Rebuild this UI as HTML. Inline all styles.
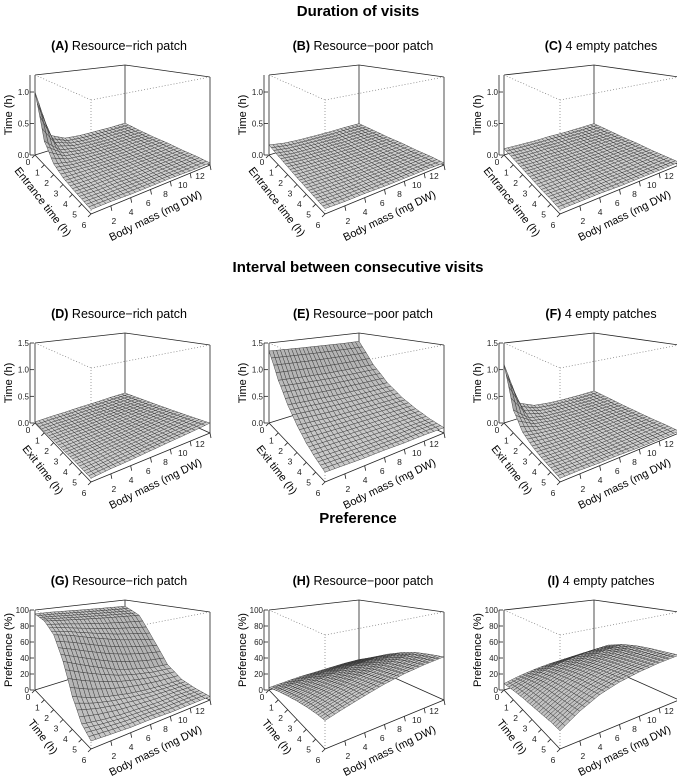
<!DOCTYPE html>
<html><head><meta charset="utf-8"><style>
body{margin:0;background:#fff}
svg{display:block;font-family:"Liberation Sans",sans-serif}
</style></head><body>
<svg id="fig" width="677" height="776" viewBox="0 0 677 776" xmlns="http://www.w3.org/2000/svg">
<text x="358" y="16" text-anchor="middle" font-size="15" font-weight="bold">Duration of visits</text>
<text x="358" y="272" text-anchor="middle" font-size="15" font-weight="bold">Interval between consecutive visits</text>
<text x="358" y="523" text-anchor="middle" font-size="15" font-weight="bold">Preference</text>
</svg>
<script>
// time rows 0..6 h, mass columns 0,2,...,12 mg DW
const timeTicks=[0,1,2,3,4,5,6];
const massTicks=[2,4,6,8,10,12];
const massCols=[0,2,4,6,8,10,12];
const zTicksDur=[0,0.5,1.0];
const zTicksInt=[0,0.5,1.0,1.5];
const zTicksPref=[0,20,40,60,80,100];
const zA=[[1.00,.25,.13,.10,.09,.08,.08],[.35,.15,.10,.08,.07,.07,.06],[.15,.10,.08,.07,.06,.06,.05],[.09,.08,.07,.06,.05,.05,.05],[.07,.06,.06,.05,.05,.04,.04],[.06,.05,.05,.04,.04,.04,.04],[.05,.05,.04,.04,.04,.03,.03]];
const zB=[[.16,.12,.10,.09,.08,.08,.07],[.13,.10,.09,.08,.07,.07,.06],[.11,.09,.08,.07,.06,.06,.05],[.09,.08,.07,.06,.05,.05,.05],[.08,.07,.06,.05,.05,.04,.04],[.07,.06,.05,.05,.04,.04,.04],[.06,.05,.05,.04,.04,.04,.03]];
const zC=[[.10,.09,.08,.08,.07,.07,.07],[.09,.08,.08,.07,.07,.06,.06],[.08,.07,.07,.06,.06,.06,.05],[.07,.07,.06,.06,.05,.05,.05],[.06,.06,.06,.05,.05,.05,.04],[.06,.05,.05,.05,.04,.04,.04],[.05,.05,.05,.04,.04,.04,.04]];
const zD=[[.02,.03,.03,.04,.04,.05,.05],[.03,.04,.04,.05,.05,.06,.07],[.04,.05,.05,.06,.07,.08,.09],[.04,.05,.06,.07,.08,.10,.11],[.05,.06,.07,.08,.10,.12,.13],[.05,.06,.08,.09,.11,.13,.15],[.05,.07,.08,.10,.12,.14,.17]];
const zE=[[1.35,1.34,1.33,1.32,1.31,1.30,1.30],[.92,.90,.88,.86,.85,.84,.83],[.62,.60,.58,.56,.55,.54,.53],[.42,.40,.38,.37,.36,.35,.34],[.28,.27,.26,.25,.24,.23,.22],[.19,.18,.17,.16,.15,.15,.14],[.13,.12,.11,.11,.10,.10,.09]];
const zF=[[1.10,.30,.17,.13,.11,.10,.10],[.40,.18,.12,.10,.09,.08,.08],[.17,.12,.09,.08,.07,.07,.06],[.10,.08,.07,.07,.06,.06,.05],[.07,.06,.06,.05,.05,.05,.04],[.06,.05,.05,.04,.04,.04,.04],[.05,.05,.04,.04,.03,.03,.03]];
const zG=[[95,95,94,93,92,91,90],[92,90,88,86,84,82,80],[82,78,72,66,60,55,50],[60,52,44,36,30,25,22],[32,25,20,16,13,11,10],[14,11,9,8,7,7,6],[7,6,5,5,4,4,4]];
const zH=[[3,4,5,5,5,5,4],[10,13,15,16,17,17,17],[15,19,23,25,27,28,29],[19,24,28,31,34,36,38],[22,27,32,36,39,42,44],[24,29,34,38,42,45,47],[25,30,35,40,44,47,49]];
const zI=[[8,12,15,17,18,19,20],[11,18,24,28,31,33,35],[13,22,29,34,38,41,43],[14,24,32,38,42,45,47],[15,25,34,40,44,47,49],[16,26,35,41,45,48,50],[16,27,36,42,46,49,51]];

const NS='http://www.w3.org/2000/svg';
const svg=document.getElementById('fig');
function mk(tag,attrs,parent){const e=document.createElementNS(NS,tag);for(const k in attrs)e.setAttribute(k,attrs[k]);(parent||svg).appendChild(e);return e;}
const G0={xL:35,xF:91,xR:210,xB:125,bL:155,bF:214,bR:165,bB:127,tL:75,tF:100,tR:77,tB:65};
function bil(a00,a10,a11,a01,u,v){return (1-u)*(1-v)*a00+u*(1-v)*a10+u*v*a11+(1-u)*v*a01;}
function proj(ox,oy,u,v,w){
 const x=bil(G0.xL,G0.xF,G0.xR,G0.xB,u,v);
 const yb=bil(G0.bL,G0.bF,G0.bR,G0.bB,u,v), yt=bil(G0.tL,G0.tF,G0.tR,G0.tB,u,v);
 return [ox+x, oy+yb+w*(yt-yb)];
}
function sample(grid,t,m){
 const ti=Math.min(5,Math.floor(t)), ft=t-ti;
 const mi=Math.min(5,Math.floor(m/2)), fm=m/2-mi;
 const a=grid[ti][mi],b=grid[ti+1][mi],c=grid[ti][mi+1],d=grid[ti+1][mi+1];
 return (1-ft)*(1-fm)*a+ft*(1-fm)*b+(1-ft)*fm*c+ft*fm*d;
}
const panels=[
 {id:'a',L:'(A)',T:' Resource\u2212rich patch',col:0,row:0,z:zA,zmax:1.27,zt:zTicksDur,zlab:'Time (h)',tlab:'Entrance time (h)',dec:1},
 {id:'b',L:'(B)',T:' Resource\u2212poor patch',col:1,row:0,z:zB,zmax:1.27,zt:zTicksDur,zlab:'Time (h)',tlab:'Entrance time (h)',dec:1},
 {id:'c',L:'(C)',T:' 4 empty patches',col:2,row:0,z:zC,zmax:1.27,zt:zTicksDur,zlab:'Time (h)',tlab:'Entrance time (h)',dec:1},
 {id:'d',L:'(D)',T:' Resource\u2212rich patch',col:0,row:1,z:zD,zmax:1.5,zt:zTicksInt,zlab:'Time (h)',tlab:'Exit time (h)',dec:1},
 {id:'e',L:'(E)',T:' Resource\u2212poor patch',col:1,row:1,z:zE,zmax:1.5,zt:zTicksInt,zlab:'Time (h)',tlab:'Exit time (h)',dec:1},
 {id:'f',L:'(F)',T:' 4 empty patches',col:2,row:1,z:zF,zmax:1.5,zt:zTicksInt,zlab:'Time (h)',tlab:'Exit time (h)',dec:1},
 {id:'g',L:'(G)',T:' Resource\u2212rich patch',col:0,row:2,z:zG,zmax:100,zt:zTicksPref,zlab:'Preference (%)',tlab:'Time (h)',dec:0},
 {id:'h',L:'(H)',T:' Resource\u2212poor patch',col:1,row:2,z:zH,zmax:100,zt:zTicksPref,zlab:'Preference (%)',tlab:'Time (h)',dec:0},
 {id:'i',L:'(I)',T:' 4 empty patches',col:2,row:2,z:zI,zmax:100,zt:zTicksPref,zlab:'Preference (%)',tlab:'Time (h)',dec:0}
];
const colOff=[0,234,469], rowOff=[0,268,535], titleX=[119,363,601];
const N=24;
panels.forEach(p=>{
 const ox=colOff[p.col], oy=rowOff[p.row];
 const g=mk('g',{});
 
 
 const tt=mk('text',{x:titleX[p.col],y:oy+50,'text-anchor':'middle','font-size':'12.5'},g);
 
 
 const b1=mk('tspan',{'font-weight':'bold'},tt); b1.textContent=p.L;
 const b2=mk('tspan',{},tt); b2.textContent=p.T;
 const P=(u,v,w)=>proj(ox,oy,u,v,w);
 const line=(a,b,extra,name)=>{const l=mk('line',Object.assign({x1:a[0],y1:a[1],x2:b[0],y2:b[1],stroke:'#222','stroke-width':0.8},extra||{}),g);
  
  return l;};
 const Lb=P(0,0,0),Lt=P(0,0,1),Fb=P(1,0,0),Ft=P(1,0,1),Rb=P(1,1,0),Rt=P(1,1,1),Bb=P(0,1,0),Bt=P(0,1,1);
 [[Lb,Lt],[Bb,Bt],[Rb,Rt],[Lt,Bt],[Bt,Rt],[Lb,Bb],[Bb,Rb]].forEach(e=>line(e[0],e[1],null,'box-edge'));
 const dot={stroke:'#777','stroke-dasharray':'1,2','stroke-width':0.7};
 [[Fb,Ft],[Lt,Ft],[Ft,Rt]].forEach(e=>line(e[0],e[1],dot,'box-front-edge'));
 const cells=[];
 for(let i=0;i<N;i++)for(let j=0;j<N;j++)cells.push([i,j]);
 cells.sort((a,b)=>(a[0]-a[1])-(b[0]-b[1]));
 const sg=mk('g',{stroke:'#333','stroke-width':0.45,'stroke-linejoin':'round'},g);
 
 
 cells.forEach(([i,j])=>{
  const u0=i/N,u1=(i+1)/N,v0=j/N,v1=(j+1)/N;
  const z=(u,v)=>Math.max(0,Math.min(1,sample(p.z,u*6,v*12)/p.zmax));
  const w00=z(u0,v0),w10=z(u1,v0),w11=z(u1,v1),w01=z(u0,v1);
  const pts=[P(u0,v0,w00),P(u1,v0,w10),P(u1,v1,w11),P(u0,v1,w01)];
  const du=((w10+w11)-(w00+w01))/2*N, dv=((w01+w11)-(w00+w10))/2*N;
  const s=Math.min(1,Math.sqrt(du*du+dv*dv)/4);
  const gr=Math.round(205-55*s+(du>0?-15*s:0));
  const poly=mk('polygon',{points:pts.map(q=>q[0].toFixed(1)+','+q[1].toFixed(1)).join(' '),fill:'rgb('+gr+','+gr+','+gr+')'},sg);
  
  
 });
 line(Lb,Fb,null,'time-axis-line');
 line(Fb,Rb,null,'mass-axis-line');
 const zx=ox+30;
 line([zx,Lb[1]],[zx,Lt[1]],null,'z-axis-line');
 p.zt.forEach(v=>{
  const q=P(0,0,v/p.zmax);
  line([zx,q[1]],[zx+4,q[1]],null,'z-tick');
  const t=mk('text',{x:zx-1,y:q[1]+3,'text-anchor':'end','font-size':'8',fill:'#222'},g);
  
  
  t.textContent=p.dec?v.toFixed(1):String(v);
 });
 const zy=(Lb[1]+Lt[1])/2;
 const zl=mk('text',{x:ox+12,y:zy,'text-anchor':'middle','font-size':'11',transform:'rotate(-90 '+(ox+12)+' '+zy+')'},g);
 
 
 zl.textContent=p.zlab;
 timeTicks.forEach(t=>{
  const u=t/6,q=P(u,0,0);
  line(q,[q[0]-3,q[1]+3],null,'time-tick');
  const tx=mk('text',{x:q[0]-7,y:q[1]+10+4*u,'text-anchor':'middle','font-size':'8.5',fill:'#222'},g);
  
  
  tx.textContent=String(t);
 });
 const tcx=ox+40,tcy=oy+204;
 const tl=mk('text',{x:tcx,y:tcy,'text-anchor':'middle','font-size':'11',transform:'rotate(52 '+tcx+' '+tcy+')'},g);
 
 
 tl.textContent=p.tlab;
 massTicks.forEach(m=>{
  const v=m/12,q=P(1,v,0);
  const dx=5.6-15.6*v,dy=18.8-4.8*v;
  line(q,[q[0]+1,q[1]+5],null,'mass-tick');
  const tx=mk('text',{x:q[0]+dx,y:q[1]+dy,'text-anchor':'middle','font-size':'8.5',fill:'#222'},g);
  
  
  tx.textContent=String(m);
 });
 const mcx=ox+157,mcy=oy+219;
 const ml=mk('text',{x:mcx,y:mcy,'text-anchor':'middle','font-size':'11',transform:'rotate(-26 '+mcx+' '+mcy+')'},g);
 
 
 ml.textContent='Body mass (mg DW)';
});
</script>
</body></html>
